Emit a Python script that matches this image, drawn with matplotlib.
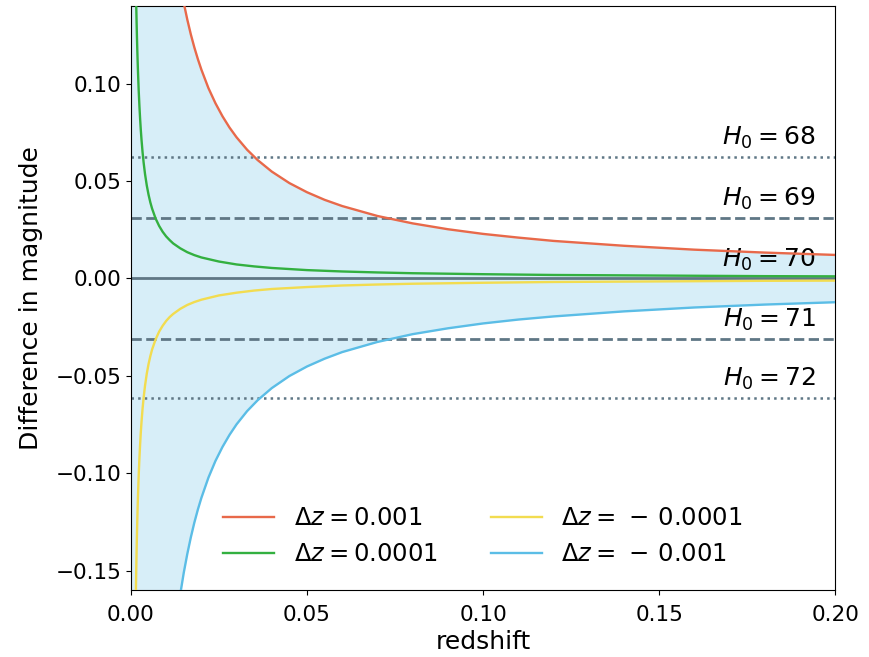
import numpy as np
import matplotlib
matplotlib.use("Agg")
import matplotlib.pyplot as plt

# values
z_big = [0.014, 0.015, 0.016, 0.017, 0.018, 0.019, 0.02, 0.022, 0.024, 0.026, 0.028, 0.03, 0.033, 0.036,
         0.04, 0.045, 0.05, 0.055, 0.06, 0.07, 0.08, 0.09, 0.10, 0.11, 0.12, 0.14, 0.16, 0.18, 0.20]
dm_plus_1e3 = [0.1511, 0.1415, 0.1330, 0.1254, 0.1187, 0.1127, 0.1073, 0.0978, 0.0900, 0.0833, 0.0775, 0.0725, 0.0661, 0.0608,
               0.0549, 0.0490, 0.0443, 0.0404, 0.0372, 0.0321, 0.0283, 0.0253, 0.0229, 0.0210, 0.0193, 0.0168, 0.0148, 0.0133, 0.0121]
dm_minus_1e3 = [-0.1622, -0.1511, -0.1415, -0.1330, -0.1254, -0.1187, -0.1127, -0.1023, -0.0937, -0.0865, -0.0803, -0.0749, -0.0681, -0.0625,
                -0.0563, -0.0501, -0.0452, -0.0412, -0.0378, -0.0326, -0.0286, -0.0256, -0.0231, -0.0211, -0.0195, -0.0169, -0.0149, -0.0134, -0.0122]

z_small = [0.0014, 0.0015, 0.0016, 0.0017, 0.0018, 0.0019, 0.002, 0.0022, 0.0024, 0.0026, 0.0028, 0.003, 0.0033, 0.0036,
           0.004, 0.0045, 0.005, 0.0055, 0.006, 0.007, 0.008, 0.009, 0.01, 0.011, 0.012, 0.014, 0.016, 0.018, 0.02,
           0.025, 0.03, 0.035, 0.04, 0.05, 0.06, 0.07, 0.08, 0.10, 0.12, 0.14, 0.16, 0.18, 0.20]
dm_plus_1e4 = [0.1498, 0.1402, 0.1317, 0.1241, 0.1174, 0.1114, 0.1060, 0.0965, 0.0887, 0.0820, 0.0762, 0.0712, 0.0648, 0.0595,
               0.0536, 0.0477, 0.0430, 0.0391, 0.0359, 0.0308, 0.0270, 0.0240, 0.0216, 0.0197, 0.0180, 0.0155, 0.0135, 0.0120, 0.0108,
               0.0087, 0.0072, 0.0062, 0.0054, 0.0043, 0.0036, 0.0031, 0.0027, 0.0022, 0.0018, 0.0016, 0.0014, 0.0012, 0.0011]
dm_minus_1e4 = [-0.1609, -0.1498, -0.1402, -0.1317, -0.1241, -0.1174, -0.1114, -0.1010, -0.0924, -0.0852, -0.0790, -0.0736, -0.0668, -0.0612,
                -0.0550, -0.0488, -0.0439, -0.0399, -0.0365, -0.0313, -0.0273, -0.0243, -0.0218, -0.0198, -0.0182, -0.0156, -0.0136, -0.0121, -0.0109,
                -0.0087, -0.0073, -0.0062, -0.0054, -0.0044, -0.0036, -0.0031, -0.0027, -0.0022, -0.0018, -0.0016, -0.0014, -0.0012, -0.0011]

h0_values = [68, 69, 70, 71, 72]
h0_offsets = [0.0626, 0.0309, 0.0, -0.0309, -0.0614]
h0_styles = [':', '--', '-', '--', ':']

ylo, yhi = -0.16, 0.14

fig = plt.figure(figsize=(8.69, 6.57), dpi=100)
ax = fig.add_axes([0.1507, 0.102, 0.8103, 0.889])

# shaded band between the +/-0.001 curves
ax.fill_between(np.r_[0.0, z_big], np.r_[yhi, dm_plus_1e3], np.r_[ylo, dm_minus_1e3],
                color='skyblue', alpha=0.33, lw=0, zorder=1)

for off, ls in zip(h0_offsets, h0_styles):
    ax.axhline(off, color='#5f7785', ls=ls, lw=2 if ls != ':' else 1.8, zorder=2)
for h0, off in zip(h0_values, h0_offsets):
    ax.text(0.1945, off + 0.003, rf'$H_0 = {h0}$', ha='right', va='bottom', fontsize=18, zorder=3)

ax.plot(z_big, dm_plus_1e3, color='#e8694a', lw=1.7, label=r'$\Delta z = 0.001$', zorder=4)
ax.plot(z_small, dm_plus_1e4, color='#33b040', lw=1.7, label=r'$\Delta z = 0.0001$', zorder=4)
ax.plot(z_small, dm_minus_1e4, color='#f2dc50', lw=1.7, label=r'$\Delta z =\,-\,0.0001$', zorder=4)
ax.plot(z_big, dm_minus_1e3, color='#5bbde6', lw=1.7, label=r'$\Delta z =\,-\,0.001$', zorder=4)

ax.set_xlim(0, 0.2)
ax.set_ylim(ylo, yhi)
ax.set_xticks([0.0, 0.05, 0.10, 0.15, 0.20])
ax.set_yticks([-0.15, -0.10, -0.05, 0.0, 0.05, 0.10])
ax.tick_params(labelsize=15.5)
ax.tick_params(axis='x', pad=7)
ax.set_xlabel('redshift', fontsize=18, labelpad=4)
ax.set_ylabel('Difference in magnitude', fontsize=18, labelpad=9)
ax.legend(loc='lower center', bbox_to_anchor=(0.5, 0.003), ncol=2, frameon=False,
          fontsize=17.5, handlelength=2.1, columnspacing=2.2)

fig.savefig('out.png', dpi=100)
